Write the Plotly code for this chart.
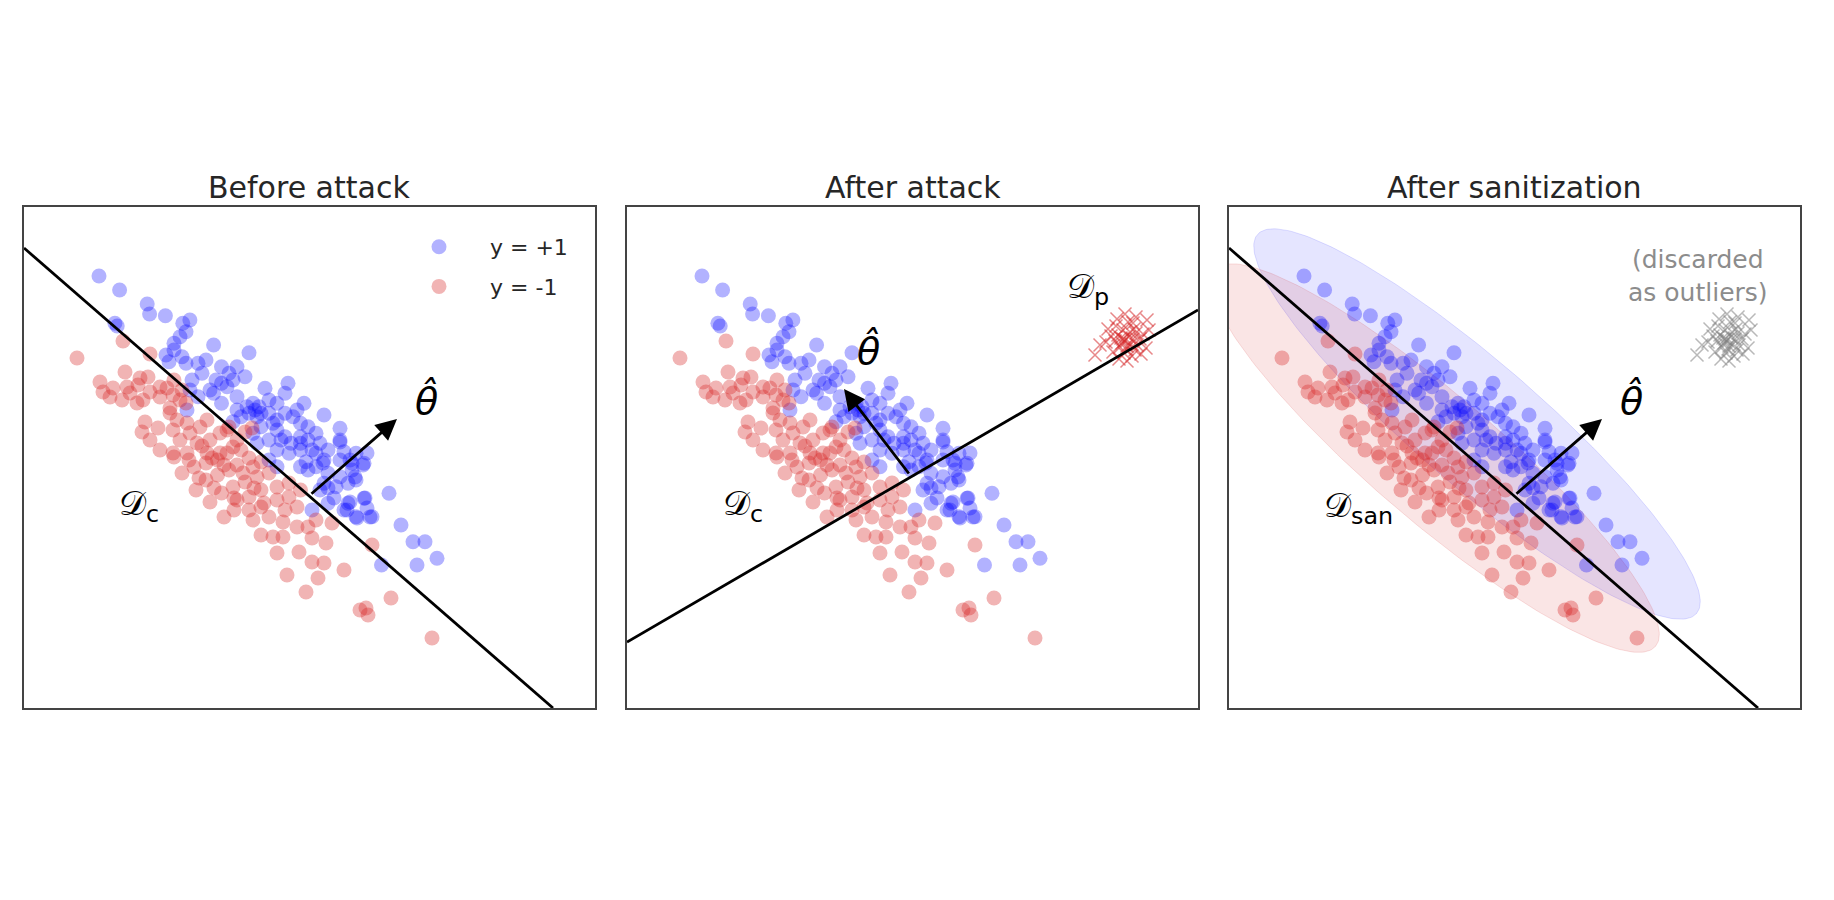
import numpy as np
import plotly.graph_objects as go

# ---------------- data (panel units, 1 unit = frame/57.1 of width) ----------------
X_RANGE = [0, 57.1]
Y_RANGE = [0, 50.1]

BLUE_X = [7.5, 9.56, 12.32, 12.56, 14.14, 9.09, 9.32, 15.88, 16.59, 16.2, 15.6, 18.96, 22.5, 15.0, 14.2,
          14.5, 15.8, 16.2, 17.4, 18.2, 16.8, 17.8, 19.2, 20.5, 20.9, 19.75, 22.1, 24.1, 26.4, 18.96,
          17.4, 21.3, 22.9, 22.5, 23.5, 24.5, 25.3, 26.1, 28.0, 27.3, 19.75, 21.3, 21.7, 20.9, 23.3,
          24.5, 25.3, 26.9, 28.4, 30.0, 29.2, 31.6, 31.6, 23.7, 25.3, 26.1, 27.65, 28.4, 29.6, 22.9,
          24.5, 25.3, 26.5, 27.65, 29.2, 30.4, 32.0, 33.2, 34.0, 32.8, 31.6, 30.0, 29.2, 28.4, 27.65,
          30.4, 31.6, 32.8, 33.2, 32.4, 31.2, 30.0, 29.6, 30.4, 32.4, 34.0, 33.2, 34.8, 32.0, 28.8,
          36.5, 37.7, 38.9, 40.1, 41.3, 39.3, 35.75, 25.3, 24.5, 23.3, 23.1, 23.7, 22.3, 27.65, 28.8,
          28.2, 26.7, 25.7, 24.9, 27.65, 26.1, 19.75, 21.3, 15.0, 18.6, 20.3, 16.6, 16.3, 31.0, 32.6,
          33.3, 34.1, 34.6, 32.3, 34.3, 30.4, 33.1, 29.9, 32.6, 33.9, 34.3, 31.6]
BLUE_Y = [43.2, 41.8, 40.4, 39.4, 39.23, 38.47, 38.2, 38.47, 38.8, 37.63, 37.13, 36.3, 35.53, 35.8, 35.3,
          34.63, 35.13, 34.47, 34.47, 34.8, 32.8, 33.47, 32.8, 33.47, 32.8, 32.47, 33.13, 31.97, 32.47, 31.47,
          31.13, 31.13, 30.47, 29.47, 30.13, 30.8, 30.47, 29.47, 30.47, 29.8, 30.47, 29.8, 29.13, 28.63, 29.13,
          29.47, 28.8, 29.13, 28.13, 29.3, 27.47, 27.97, 26.8, 28.13, 27.8, 27.13, 27.13, 26.8, 26.47, 27.47,
          26.8, 25.8, 25.47, 25.8, 25.47, 25.8, 25.63, 25.47, 24.47, 24.47, 24.8, 24.8, 24.13, 23.8, 24.13,
          23.47, 23.13, 23.8, 22.8, 22.47, 22.13, 22.47, 21.8, 20.47, 20.47, 20.97, 19.13, 19.13, 19.8, 19.8,
          21.47, 18.3, 16.63, 16.63, 14.97, 14.3, 14.3, 24.13, 24.8, 26.47, 29.8, 29.47, 30.13, 26.47, 25.8,
          24.63, 26.47, 26.8, 28.47, 28.47, 31.47, 34.13, 34.13, 36.47, 31.8, 32.13, 31.8, 29.8, 21.0, 20.6,
          19.0, 21.0, 19.1, 19.8, 20.0, 22.0, 23.1, 24.5, 24.8, 24.3, 25.5, 26.6]

RED_X = [5.3, 9.9, 12.6, 10.1, 11.6, 12.4, 11.4, 12.6, 11.9, 7.6, 7.9, 8.9, 8.6, 10.3, 9.8, 11.3, 10.6,
         13.6, 14.3, 13.6, 14.9, 14.6, 15.6, 12.1, 11.8, 12.6, 13.4, 14.6, 15.3, 16.3, 13.6, 14.9, 15.6,
         16.6, 17.6, 18.3, 17.3, 18.6, 19.6, 20.3, 20.9, 19.6, 18.3, 16.3, 14.9, 22.8, 15.0, 15.8, 16.2,
         20.5, 22.1, 21.3, 15.0, 15.8, 17.0, 18.2, 19.35, 20.3, 21.7, 22.5, 17.2, 18.2, 19.35, 20.5, 21.3,
         22.9, 23.7, 18.6, 19.75, 20.9, 22.1, 23.3, 24.5, 20.0, 21.3, 22.5, 23.7, 25.3, 26.5, 22.5, 23.7,
         25.3, 26.5, 27.65, 22.9, 24.5, 26.1, 27.3, 23.7, 24.9, 25.9, 27.3, 28.4, 29.2, 25.3, 27.5, 28.8,
         30.2, 28.8, 30.0, 30.8, 32.0, 26.3, 29.4, 28.2, 34.8, 36.7, 33.6, 34.4, 34.2, 40.8, 17.5, 19.0,
         21.0, 16.5, 18.8, 21.9, 20.0, 23.0, 24.0, 25.9, 21.0, 17.8]
RED_Y = [35.0, 36.7, 35.4, 33.6, 33.0, 33.1, 32.3, 31.6, 30.8, 32.6, 31.6, 32.0, 31.1, 32.1, 30.8, 30.5, 31.5,
         32.1, 32.0, 31.1, 31.3, 30.0, 30.8, 28.6, 27.6, 26.8, 28.0, 29.5, 28.8, 28.5, 25.8, 27.8, 26.8,
         27.5, 28.1, 28.8, 26.5, 26.8, 27.5, 27.8, 26.1, 25.5, 25.5, 25.5, 25.5, 28.0, 32.8, 31.8, 30.5,
         28.1, 27.6, 26.8, 25.1, 23.5, 24.1, 24.5, 24.8, 25.5, 25.8, 25.0, 21.8, 22.8, 23.3, 23.8, 24.3,
         24.1, 24.6, 20.6, 21.5, 22.1, 22.6, 23.1, 23.5, 19.1, 20.8, 21.1, 21.8, 22.1, 22.5, 19.8, 20.1,
         20.8, 21.1, 21.8, 18.8, 19.1, 19.8, 20.1, 17.3, 17.1, 17.1, 18.1, 18.1, 18.8, 15.5, 15.6, 17.0,
         16.5, 14.6, 14.5, 18.5, 13.8, 13.3, 13.0, 11.6, 16.3, 11.0, 9.8, 9.3, 10.0, 7.0, 23.0, 22.0,
         21.0, 24.8, 25.0, 23.5, 24.3, 22.0, 20.5, 18.6, 19.8, 26.2]

POISON_X = [49.8, 50.2, 49.5, 50.6, 49.1, 50.0, 50.9, 48.8, 49.6, 50.4, 51.3, 48.4, 49.9, 50.7, 49.3, 51.0,
            48.9, 50.3, 49.7, 51.6, 47.9, 50.1, 49.4, 50.8, 48.6, 49.0, 51.9, 50.5, 47.3, 52.2, 49.8, 50.0,
            48.1, 51.4, 49.2, 50.6, 49.6, 50.9, 46.8, 52.0]
POISON_Y = [36.8, 37.1, 36.5, 36.9, 37.3, 36.2, 37.5, 36.7, 37.8, 36.4, 36.9, 37.2, 35.9, 37.9, 36.1, 36.3,
            38.2, 37.6, 35.5, 37.4, 36.6, 38.6, 37.0, 35.8, 35.6, 38.9, 36.0, 35.2, 36.3, 37.8, 39.4, 34.7,
            37.9, 35.4, 34.9, 38.5, 36.9, 39.1, 35.3, 38.8]

# decision boundaries (two end points each) and theta-hat arrows (tail -> head)
CLEAN_LINE_X = [0.0, 52.9]
CLEAN_LINE_Y = [46.0, 0.0]
POISONED_LINE_X = [0.0, 57.1]
POISONED_LINE_Y = [6.6, 39.8]
CLEAN_ARROW = dict(tail=(28.6, 21.3), head=(37.3, 28.9))
POISONED_ARROW = dict(tail=(28.3, 23.3), head=(21.7, 31.9))

# sanitization ellipses: centre x, centre y, semi-major, semi-minor, angle (deg)
BLUE_ELLIPSE = (24.8, 28.4, 29.0, 6.2, -40.8)
RED_ELLIPSE = (20.6, 25.0, 29.0, 6.3, -40.5)

TITLES = ["Before attack", "After attack", "After sanitization"]
LEGEND_LABELS = ["y = +1", "y = -1"]

# ---------------- styling ----------------
OFF = 8                      # page body margin of the html page
W, H = 1834 - 2 * OFF, 900 - 2 * OFF
BLUE = "rgba(0,0,255,0.30)"
RED = "rgba(214,39,40,0.35)"
TXT = "#262626"
FONT = "DejaVu Sans"
MSIZE = 15


def px(v):
    return (v - OFF) / W


def py(v):
    return 1 - (v - OFF) / H


x_domains = [[px(24), px(595)], [px(627), px(1198)], [px(1229), px(1800)]]
y_domain = [py(708), py(207)]


def ellipse(params, n=240):
    cx, cy, a, b, ang = params
    t = np.linspace(0, 2 * np.pi, n)
    r = np.deg2rad(ang)
    ex = cx + a * np.cos(t) * np.cos(r) - b * np.sin(t) * np.sin(r)
    ey = cy + a * np.cos(t) * np.sin(r) + b * np.sin(t) * np.cos(r)
    return ex, ey


fig = go.Figure()

for i in range(3):
    xa = "x" if i == 0 else f"x{i+1}"
    ya = "y" if i == 0 else f"y{i+1}"

    if i == 2:
        for params, fillc, linec in [(BLUE_ELLIPSE, "rgba(0,0,255,0.10)", "rgba(0,0,255,0.12)"),
                                     (RED_ELLIPSE, "rgba(214,39,40,0.12)", "rgba(214,39,40,0.14)")]:
            ex, ey = ellipse(params)
            fig.add_trace(go.Scatter(x=ex, y=ey, mode="lines", fill="toself", fillcolor=fillc,
                                     line=dict(color=linec, width=1), hoverinfo="skip",
                                     showlegend=False, xaxis=xa, yaxis=ya))

    fig.add_trace(go.Scatter(x=BLUE_X, y=BLUE_Y, mode="markers", name=LEGEND_LABELS[0],
                             legendgroup="b", showlegend=(i == 0),
                             marker=dict(size=MSIZE, color=BLUE, line=dict(width=0)),
                             xaxis=xa, yaxis=ya))
    fig.add_trace(go.Scatter(x=RED_X, y=RED_Y, mode="markers", name=LEGEND_LABELS[1],
                             legendgroup="r", showlegend=(i == 0),
                             marker=dict(size=MSIZE, color=RED, line=dict(width=0)),
                             xaxis=xa, yaxis=ya))
    if i >= 1:
        cc = "rgba(214,39,40,0.55)" if i == 1 else "rgba(128,128,128,0.55)"
        fig.add_trace(go.Scatter(x=POISON_X, y=POISON_Y, mode="markers", showlegend=False,
                                 marker=dict(symbol="x-thin", size=13, color=cc,
                                             line=dict(color=cc, width=1.5)),
                                 xaxis=xa, yaxis=ya))
    lx, ly = (POISONED_LINE_X, POISONED_LINE_Y) if i == 1 else (CLEAN_LINE_X, CLEAN_LINE_Y)
    fig.add_trace(go.Scatter(x=lx, y=ly, mode="lines", line=dict(color="black", width=2.8),
                             showlegend=False, hoverinfo="skip", xaxis=xa, yaxis=ya))

    arr = POISONED_ARROW if i == 1 else CLEAN_ARROW
    fig.add_annotation(x=arr["head"][0], y=arr["head"][1], ax=arr["tail"][0], ay=arr["tail"][1],
                       xref=xa, yref=ya, axref=xa, ayref=ya, text="", showarrow=True,
                       arrowhead=2, arrowsize=1.5, arrowwidth=2.8, arrowcolor="black")

    axis_style = dict(range=X_RANGE, showgrid=False, zeroline=False, showticklabels=False, ticks="",
                      showline=True, mirror=True, linecolor="#444", linewidth=1.5,
                      domain=x_domains[i], anchor=ya)
    yaxis_style = dict(range=Y_RANGE, showgrid=False, zeroline=False, showticklabels=False, ticks="",
                       showline=True, mirror=True, linecolor="#444", linewidth=1.5,
                       domain=y_domain, anchor=xa)
    fig.update_layout(**{("xaxis" if i == 0 else f"xaxis{i+1}"): axis_style,
                         ("yaxis" if i == 0 else f"yaxis{i+1}"): yaxis_style})

    # title
    fig.add_annotation(x=(x_domains[i][0] + x_domains[i][1]) / 2, y=y_domain[1], xref="paper", yref="paper",
                       text=TITLES[i], showarrow=False, xanchor="center", yanchor="bottom", yshift=0,
                       font=dict(family=FONT, size=30, color=TXT))

# text labels in data coordinates
labels = [
    ("x", "y", 9.3, 20.3, "𝒟<sub>c</sub>", 34),
    ("x", "y", 40.2, 30.8, "<i>θ̂</i>", 38),
    ("x2", "y2", 9.4, 20.3, "𝒟<sub>c</sub>", 34),
    ("x2", "y2", 24.1, 35.8, "<i>θ̂</i>", 38),
    ("x2", "y2", 43.8, 42.0, "𝒟<sub>p</sub>", 34),
    ("x3", "y3", 9.3, 20.1, "𝒟<sub>san</sub>", 34),
    ("x3", "y3", 40.2, 30.8, "<i>θ̂</i>", 38),
]
for xa, ya, xx, yy, t, fs in labels:
    fig.add_annotation(x=xx, y=yy, xref=xa, yref=ya, text=t, showarrow=False,
                       xanchor="center" if "θ" in t else "left", yanchor="middle",
                       font=dict(family=FONT, size=fs, color="black"))

fig.add_annotation(x=46.9, y=43.2, xref="x3", yref="y3", text="(discarded<br>as outliers)",
                   showarrow=False, xanchor="center", yanchor="middle", align="center",
                   font=dict(family=FONT, size=25, color="#8c8c8c"))

fig.update_layout(
    width=W, height=H, margin=dict(l=0, r=0, t=0, b=0),
    paper_bgcolor="white", plot_bgcolor="white",
    showlegend=True,
    legend=dict(x=px(388), y=py(226), xanchor="left", yanchor="top", bgcolor="rgba(0,0,0,0)",
                font=dict(family=FONT, size=22, color=TXT), itemwidth=92, tracegroupgap=8),
)

fig.write_html("out.html")
